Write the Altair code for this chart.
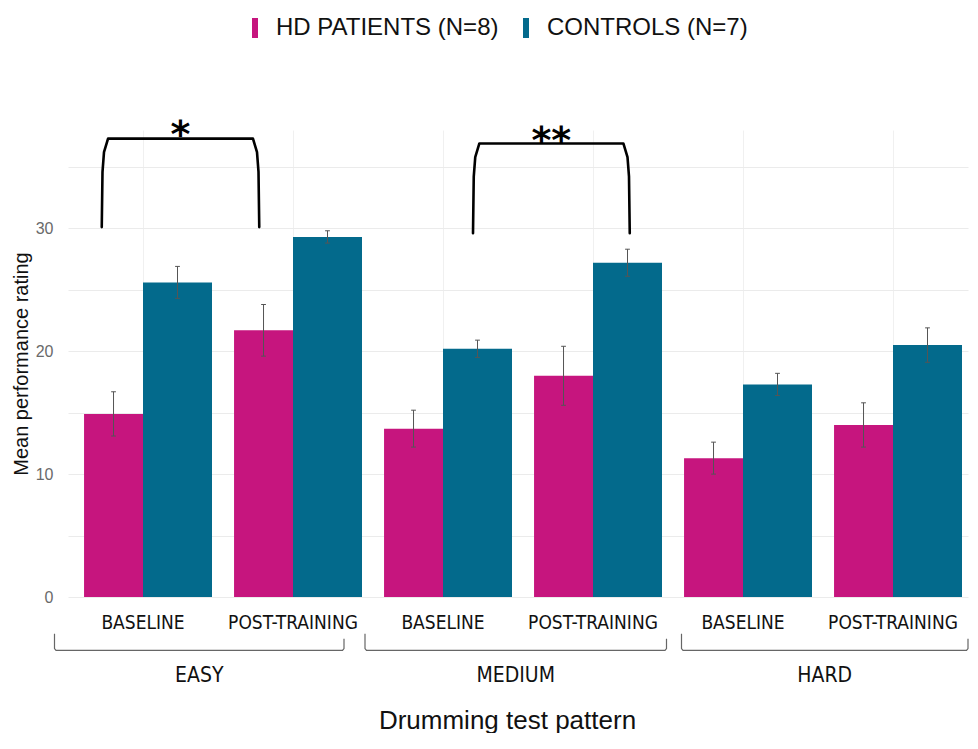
import altair as alt
import pandas as pd

# ---------------- data ----------------
conditions = ["BASELINE", "POST-TRAINING", "BASELINE", "POST-TRAINING", "BASELINE", "POST-TRAINING"]
levels = ["EASY", "MEDIUM", "HARD"]
groups = ["HD PATIENTS (N=8)", "CONTROLS (N=7)"]
hd_mean = [14.9, 21.7, 13.7, 18.0, 11.3, 14.0]
hd_err = [1.8, 2.1, 1.5, 2.4, 1.3, 1.8]
ctrl_mean = [25.6, 29.3, 20.2, 27.2, 17.3, 20.5]
ctrl_err = [1.3, 0.5, 0.7, 1.1, 0.9, 1.4]
y_tick_labels = [0, 10, 20, 30]

# significance annotations (x in category units, y in rating units)
sig_labels = ["*", "**"]
sig_x1 = [-0.275, 2.2]
sig_x2 = [0.775, 3.245]
sig_top = [37.3, 36.9]
sig_bottom = [30.1, 29.6]
sig_text_y = [36.6, 36.1]

# difficulty-level brackets under the axis
level_x1 = [-0.59, 1.48, 3.59]
level_x2 = [1.34, 3.49, 5.5]

colors = ["#C6157E", "#036A8C"]
FONT = "Liberation Sans"
NARROW = "Liberation Sans Narrow, DejaVu Sans Condensed, Arial Narrow, sans-serif"

# ---------------- tables ----------------
HD_W, CT_W = 0.393, 0.46
bar_rows, err_rows = [], []
for i in range(len(conditions)):
    bar_rows.append(dict(x=i - HD_W, x2=i, y=hd_mean[i], group=groups[0]))
    bar_rows.append(dict(x=i, x2=i + CT_W, y=ctrl_mean[i], group=groups[1]))
    for c, m, e in ((i - HD_W / 2, hd_mean[i], hd_err[i]), (i + CT_W / 2, ctrl_mean[i], ctrl_err[i])):
        err_rows.append(dict(x=c, lo=m - e, hi=m + e, cl=c - 0.016, cr=c + 0.016))
bars_df = pd.DataFrame(bar_rows)
err_df = pd.DataFrame(err_rows)

sig_rows = []
for k in range(len(sig_labels)):
    x1, x2, t, b = sig_x1[k], sig_x2[k], sig_top[k], sig_bottom[k]
    pts = [(x1, b), (x1 + 0.005, t - 2.7), (x1 + 0.015, t - 1.1), (x1 + 0.042, t),
           (x2 - 0.042, t), (x2 - 0.015, t - 1.1), (x2 - 0.005, t - 2.7), (x2, b)]
    for j, (px, py) in enumerate(pts):
        sig_rows.append(dict(id=k, o=j, x=px, y=py))
sig_df = pd.DataFrame(sig_rows)
sig_text_df = pd.DataFrame(dict(
    x=[(a + b) / 2 for a, b in zip(sig_x1, sig_x2)], y=sig_text_y, t=sig_labels))

lvl_rows = []
for k in range(len(levels)):
    x1, x2 = level_x1[k], level_x2[k]
    pts = [(x1, -3.0), (x1, -4.2), (x1 + 0.01, -4.35), (x2 - 0.01, -4.35), (x2, -4.2), (x2, -3.4)]
    for j, (px, py) in enumerate(pts):
        lvl_rows.append(dict(id=k, o=j, x=px, y=py))
lvl_df = pd.DataFrame(lvl_rows)
lvl_text_df = pd.DataFrame(dict(
    x=[(a + b) / 2 for a, b in zip(level_x1, level_x2)], y=[-6.92] * 3, t=levels))
cond_df = pd.DataFrame(dict(x=list(range(len(conditions))), y=[-2.6] * len(conditions), t=conditions))

# ---------------- scales / axes ----------------
xscale = alt.Scale(domain=[-0.5, 5.5], nice=False, zero=False)
yscale = alt.Scale(domain=[0, 38], nice=False)
xaxis = alt.Axis(values=[0, 1, 2, 3, 4, 5], labels=False, ticks=False, tickSize=0, domain=False,
                 grid=True, gridColor="#f0f0f0", title="Drumming test pattern",
                 titleFont=FONT, titleFontSize=26, titleFontWeight="normal", titleColor="#111",
                 titleX=439, titleY=131, titleAlign="center", titleBaseline="alphabetic")
yaxis = alt.Axis(values=[0, 5, 10, 15, 20, 25, 30, 35],
                 labelExpr="indexof([" + ",".join(str(v) for v in y_tick_labels) + "], datum.value) >= 0 ? datum.label : ''",
                 ticks=False, tickSize=0, domain=False, grid=True, gridColor="#ebebeb",
                 labelPadding=15, labelFont=FONT, labelFontSize=16, labelColor="#6a6a6a",
                 title="Mean performance rating", titleFont=FONT, titleFontSize=20,
                 titleFontWeight="normal", titleColor="#111", titleAngle=270,
                 titleX=-41, titleY=233.5, titleAlign="center", titleBaseline="alphabetic")

X = lambda f="x": alt.X(f"{f}:Q", scale=xscale, axis=xaxis)
Y = lambda f="y": alt.Y(f"{f}:Q", scale=yscale, axis=yaxis)

bars = alt.Chart(bars_df).mark_bar(strokeWidth=0).encode(
    x=X(), x2="x2:Q", y=Y(), y2=alt.datum(0),
    color=alt.Color("group:N", sort=groups, scale=alt.Scale(domain=groups, range=colors),
                    legend=alt.Legend(title=None, orient="none", legendX=175, legendY=-114,
                                      direction="horizontal", symbolType="M-0.3,-1H0.3V1H-0.3Z",
                                      symbolSize=400, symbolStrokeWidth=0, symbolOpacity=1,
                                      labelFont=FONT, labelFontSize=24, labelColor="#111",
                                      labelOffset=9, columnPadding=15, padding=0, labelLimit=400)),
)

err = alt.Chart(err_df).mark_rule(color="#555", strokeWidth=1).encode(x=X(), y=Y("lo"), y2="hi:Q")
cap_top = alt.Chart(err_df).mark_rule(color="#555", strokeWidth=1).encode(x=X("cl"), x2="cr:Q", y=Y("hi"))
cap_bot = alt.Chart(err_df).mark_rule(color="#555", strokeWidth=1).encode(x=X("cl"), x2="cr:Q", y=Y("lo"))

sig = alt.Chart(sig_df).mark_line(color="black", strokeWidth=2.6, strokeCap="round", strokeJoin="round").encode(
    x=X(), y=Y(), detail="id:N", order="o:Q")
sig_text = alt.Chart(sig_text_df).mark_text(font="DejaVu Sans", fontWeight="bold", fontSize=38,
                                            baseline="alphabetic", align="center", color="black").encode(
    x=X(), y=Y(), text="t:N")

lvl = alt.Chart(lvl_df).mark_line(color="#666", strokeWidth=1.2).encode(
    x=X(), y=Y(), detail="id:N", order="o:Q")
lvl_text = alt.Chart(lvl_text_df).mark_text(font=NARROW, fontSize=21, baseline="alphabetic",
                                            align="center", color="#111").encode(x=X(), y=Y(), text="t:N")
cond_text = alt.Chart(cond_df).mark_text(font=NARROW, fontSize=19, baseline="alphabetic",
                                         align="center", color="#111").encode(x=X(), y=Y(), text="t:N")

chart = alt.layer(bars, err, cap_top, cap_bot, sig, sig_text, lvl, lvl_text, cond_text).properties(
    width=900, height=467,
    padding={"left": 60, "top": 122, "right": 2, "bottom": 136},
    autosize=alt.AutoSizeParams(type="none"),
).configure(background="white", view=alt.ViewConfig(strokeWidth=0, stroke="transparent"))

chart.save("out.html", embed_options={"renderer": "svg", "actions": False})
